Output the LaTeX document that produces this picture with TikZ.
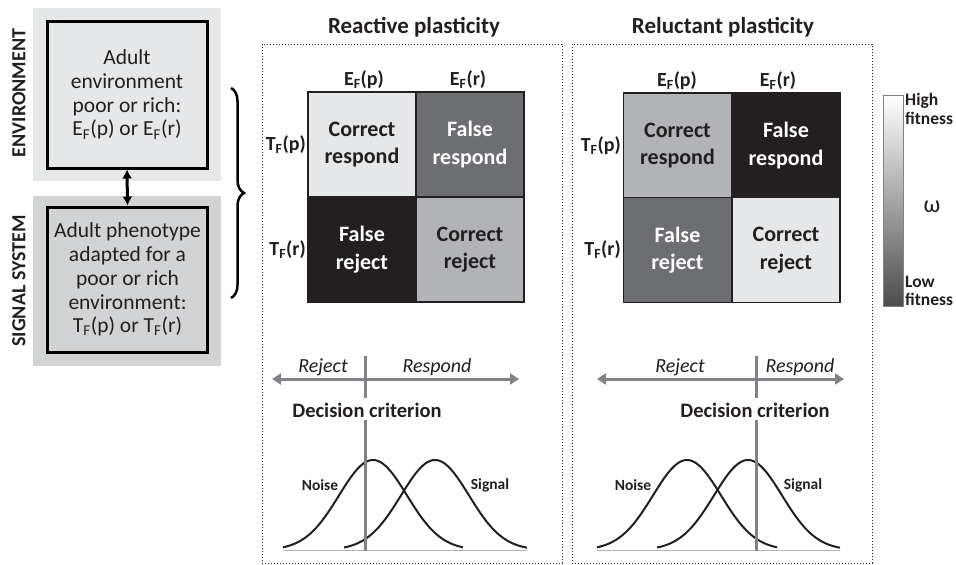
\documentclass[tikz,border=0pt]{standalone}
\usepackage{fontspec}
\setmainfont{Carlito}
\usetikzlibrary{arrows.meta,decorations.pathreplacing}
\definecolor{cLight}{HTML}{E6E7E8}
\definecolor{cMid}{HTML}{B1B3B6}
\definecolor{cDark}{HTML}{6D6E71}
\definecolor{cBlack}{HTML}{231F20}
\definecolor{bgEnv}{HTML}{E6E7E8}
\definecolor{bgSig}{HTML}{D1D3D4}
\definecolor{lineGray}{HTML}{808285}
\newcommand{\Ef}{E\textsubscript{F}}
\newcommand{\Tf}{T\textsubscript{F}}
\tikzset{
  bgpanel/.style={draw=none, inner sep=0, minimum width=188pt},
  innerbox/.style={draw=black, line width=3pt, inner sep=0, minimum width=160pt, align=center, text=cBlack, font=\fontsize{21.5}{23.8}\selectfont},
  sidelabel/.style={rotate=90, font=\fontsize{20}{22}\selectfont\bfseries, text=cBlack},
  cell/.style={draw=cBlack, line width=1.5pt, inner sep=0, minimum width=108pt, minimum height=105pt, align=center, font=\fontsize{22}{27.5}\selectfont\bfseries},
  axlabel/.style={font=\fontsize{20}{22}\selectfont\bfseries, text=cBlack},
  title/.style={font=\fontsize{23}{26}\selectfont\bfseries, text=cBlack},
  panel/.style={draw=cBlack, dotted, line width=1pt},
  decline/.style={draw=lineGray, line width=3pt},
  dirarrow/.style={draw=lineGray, line width=3pt, {Triangle[length=9pt,width=11pt]}-{Triangle[length=9pt,width=11pt]}},
  dirlabel/.style={font=\fontsize{20}{22}\selectfont\itshape, text=cBlack},
  crit/.style={font=\fontsize{20.5}{23}\selectfont\bfseries, text=cBlack},
  curve/.style={draw=cBlack, line width=2pt},
  baseline/.style={draw=cMid, line width=1pt},
  distlabel/.style={font=\fontsize{15.5}{17}\selectfont\bfseries, text=cBlack},
  legendtxt/.style={font=\fontsize{17.5}{18.5}\selectfont\bfseries, text=cBlack, align=left, inner sep=0, anchor=west},
}
\begin{document}
\begin{tikzpicture}[x=1pt,y=-1pt]
\useasboundingbox (0,0) rectangle (956,565);

% ---------- left panel ----------
\fill[bgEnv] (33,8) rectangle (221,181);
\fill[bgSig] (33,196) rectangle (221,366);
\node[innerbox, fill=bgEnv, minimum height=147pt] (env) at (127,94.5)
  {Adult\\environment\\poor or rich:\\\Ef(p) or \Ef(r)};
\node[innerbox, fill=bgSig, minimum height=145pt] (sig) at (127.5,279.5)
  {Adult phenotype\\adapted for a\\poor or rich\\environment:\\\Tf(p) or \Tf(r)};
\node[sidelabel] (envlab) at (19,93) {ENVIRONMENT};
\node[sidelabel] (siglab) at (19,281) {SIGNAL SYSTEM};
\draw[black, line width=3pt, {Latex[length=9pt,width=10pt]}-{Latex[length=9pt,width=10pt]}] (env.south) -- (sig.north);
\coordinate (brtop) at (231,88);
\coordinate (brbot) at (231,298);
\draw[black, line width=2.5pt, decorate, decoration={brace, amplitude=13pt}] (brtop) -- (brbot);

% ---------- reactive plasticity ----------
\node[title] (t1) at (414,27) {Reactive plasticity};
\draw[panel] (262,44) rectangle (562,563);
\node[cell, fill=cLight, text=cBlack] (a11) at (362,144.5) {Correct\\respond};
\node[cell, fill=cDark, text=white] (a12) at (470,144.5) {False\\respond};
\node[cell, fill=cBlack, text=white] (a21) at (362,249.5) {False\\reject};
\node[cell, fill=cMid, text=cBlack] (a22) at (470,249.5) {Correct\\reject};
\node[axlabel, anchor=south] (ae1) at (364,92) {\Ef(p)};
\node[axlabel, anchor=south] (ae2) at (468,92) {\Ef(r)};
\node[axlabel, anchor=east, inner sep=1pt] (at1) at (307,144.5) {\Tf(p)};
\node[axlabel, anchor=east, inner sep=1pt] (at2) at (307,249.5) {\Tf(r)};

\coordinate (ar1l) at (272,379);
\coordinate (ar1r) at (519,379);
\draw[dirarrow] (ar1l) -- (ar1r);
\coordinate (d1a) at (365,356);
\coordinate (d1b) at (365,398);
\draw[decline] (d1a) -- (d1b);
\node[dirlabel] (rj1) at (323,367) {Reject};
\node[dirlabel] (rs1) at (437,367) {Respond};
\node[crit] (dc1) at (367,410) {Decision criterion};
\coordinate (b1l) at (283,550);
\coordinate (b1r) at (527,550);
\draw[baseline] (b1l) -- (b1r);
\draw[curve, domain=283:463, samples=90, smooth] plot (\x, {550-90*exp(-((\x-373)/34)^2/2)});
\draw[curve, domain=344:527, samples=90, smooth] plot (\x, {550-90*exp(-((\x-435)/34)^2/2)});
\coordinate (v1a) at (365,420);
\coordinate (v1b) at (365,551);
\draw[decline] (v1a) -- (v1b);
\node[distlabel] (n1) at (320,485) {Noise};
\node[distlabel] (s1) at (490,485) {Signal};

% ---------- reluctant plasticity ----------
\node[title] (t2) at (723,27) {Reluctant plasticity};
\draw[panel] (572,44) rectangle (872,563);
\node[cell, fill=cMid, text=cBlack] (b11) at (677.5,145.5) {Correct\\respond};
\node[cell, fill=cBlack, text=white] (b12) at (786,145.5) {False\\respond};
\node[cell, fill=cDark, text=white] (b21) at (677.5,250) {False\\reject};
\node[cell, fill=cLight, text=cBlack] (b22) at (786,250) {Correct\\reject};
\node[axlabel, anchor=south] (be1) at (677,93) {\Ef(p)};
\node[axlabel, anchor=south] (be2) at (778,93) {\Ef(r)};
\node[axlabel, anchor=east, inner sep=1pt] (bt1) at (622,145.5) {\Tf(p)};
\node[axlabel, anchor=east, inner sep=1pt] (bt2) at (622,250) {\Tf(r)};

\coordinate (ar2l) at (597,379);
\coordinate (ar2r) at (844,379);
\draw[dirarrow] (ar2l) -- (ar2r);
\coordinate (d2a) at (756,356);
\coordinate (d2b) at (756,398);
\draw[decline] (d2a) -- (d2b);
\node[dirlabel] (rj2) at (680,367) {Reject};
\node[dirlabel] (rs2) at (800,367) {Respond};
\node[crit] (dc2) at (755,410) {Decision criterion};
\coordinate (b2l) at (597,550);
\coordinate (b2r) at (840,550);
\draw[baseline] (b2l) -- (b2r);
\draw[curve, domain=597:777, samples=90, smooth] plot (\x, {550-90*exp(-((\x-687)/34)^2/2)});
\draw[curve, domain=657:840, samples=90, smooth] plot (\x, {550-90*exp(-((\x-748)/34)^2/2)});
\coordinate (v2a) at (756,420);
\coordinate (v2b) at (756,551);
\draw[decline] (v2a) -- (v2b);
\node[distlabel] (n2) at (633,485) {Noise};
\node[distlabel] (s2) at (803,485) {Signal};

% ---------- legend ----------
\shade[top color=white, bottom color=black!70] (883,95) rectangle (903,306);
\draw[lineGray, line width=0.8pt] (883,95) rectangle (903,306);
\node[legendtxt] (hi) at (905,109) {High\\fitness};
\node[legendtxt] (lo) at (905,291) {Low\\fitness};
\node[font=\fontsize{24}{26}\selectfont, text=cBlack] (om) at (932,207) {ω};
\end{tikzpicture}
\end{document}
